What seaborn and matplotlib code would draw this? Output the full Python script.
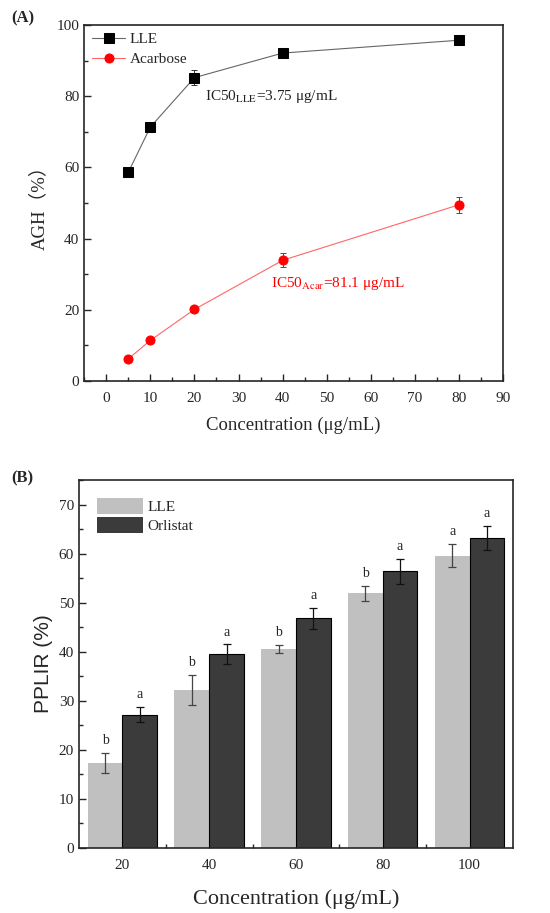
import matplotlib
matplotlib.use("Agg")
import matplotlib.pyplot as plt
from matplotlib.ticker import MultipleLocator, FixedLocator
import seaborn as sns
import pandas as pd
import numpy as np

# ---------------- data ----------------
conc_a = [5, 10, 20, 40, 80]
lle_agh = [58.6, 71.3, 85.2, 92.1, 95.7]
lle_agh_err = [0.9, 0.9, 2.2, 0.8, 0.8]
acar_agh = [6.2, 11.4, 20.1, 33.9, 49.5]
acar_agh_err = [0.5, 0.6, 0.8, 2.0, 2.2]

conc_b = ["20", "40", "60", "80", "100"]
lle_pplir = [17.3, 32.2, 40.5, 51.9, 59.6]
lle_pplir_err = [2.1, 3.0, 0.8, 1.5, 2.3]
orl_pplir = [27.2, 39.5, 46.8, 56.4, 63.2]
orl_pplir_err = [1.5, 2.0, 2.2, 2.6, 2.5]
lle_letters = ["b", "b", "b", "b", "a"]
orl_letters = ["a", "a", "a", "a", "a"]

sns.set_style("ticks")
plt.rcParams["font.family"] = ["Liberation Serif", "DejaVu Serif"]
plt.rcParams["mathtext.fontset"] = "stix"

fig = plt.figure(figsize=(5.5, 9.13), dpi=100)

# ---------------- panel A ----------------
ax1 = fig.add_axes([0.153, 0.5827, 0.762, 0.39])

df_lle = pd.DataFrame({"conc": conc_a, "agh": lle_agh})
df_acar = pd.DataFrame({"conc": conc_a, "agh": acar_agh})

ax1.errorbar(conc_a, lle_agh, yerr=lle_agh_err, fmt="none", ecolor="#333333",
             elinewidth=0.7, capsize=2.5, capthick=0.7, zorder=1)
ax1.errorbar(conc_a, acar_agh, yerr=acar_agh_err, fmt="none", ecolor="red",
             elinewidth=0.7, capsize=2.5, capthick=0.7, zorder=1)
sns.lineplot(data=df_lle, x="conc", y="agh", ax=ax1, color="#666666", lw=0.8,
             marker="s", markersize=6.5, markerfacecolor="black",
             markeredgecolor="black", label="LLE", zorder=3)
sns.lineplot(data=df_acar, x="conc", y="agh", ax=ax1, color="#ff6666", lw=0.8,
             marker="o", markersize=6.5, markerfacecolor="red",
             markeredgecolor="red", label="Acarbose", zorder=3)

ax1.set_xlim(-5, 90)
ax1.set_ylim(0, 100)
ax1.xaxis.set_major_locator(MultipleLocator(10))
ax1.xaxis.set_minor_locator(MultipleLocator(5))
ax1.yaxis.set_major_locator(MultipleLocator(20))
ax1.yaxis.set_minor_locator(MultipleLocator(10))
ax1.tick_params(which="both", direction="in", labelsize=11)
ax1.tick_params(which="major", length=5, width=1)
ax1.tick_params(which="minor", length=3, width=1)
ax1.tick_params(axis="x", pad=8)
for s in ax1.spines.values():
    s.set_linewidth(1.2)
ax1.set_xlabel("Concentration (μg/mL)", fontsize=13.5, labelpad=8)
ax1.set_ylabel("AGH（%）", fontsize=13.5, labelpad=6,
               family=["Liberation Serif", "Noto Sans CJK SC"])

ax1.text(22.4, 78.9, r"IC50$_{\rm LLE}$=3.75 μg/mL", fontsize=11, color="#222222")
ax1.text(37.4, 26.5, r"IC50$_{\rm Acar}$=81.1 μg/mL", fontsize=11, color="red")
ax1.legend(loc="upper left", frameon=False, fontsize=11, handlelength=2.2,
           borderaxespad=0.1, labelspacing=0.4, handletextpad=0.3)

fig.text(0.02, 0.976, "(A)", fontsize=12, fontweight="bold")

# ---------------- panel B ----------------
ax2 = fig.add_axes([0.1436, 0.0712, 0.789, 0.403])

df_b = pd.DataFrame({
    "conc": conc_b * 2,
    "pplir": lle_pplir + orl_pplir,
    "sample": ["LLE"] * len(conc_b) + ["Orlistat"] * len(conc_b),
})
sns.barplot(data=df_b, x="conc", y="pplir", hue="sample", order=conc_b,
            palette=["#c0c0c0", "#3b3b3b"], width=0.8, gap=0, errorbar=None,
            saturation=1, linewidth=0, ax=ax2)
for p in ax2.containers[1].patches:
    p.set_edgecolor("black")
    p.set_linewidth(0.8)

for cont, errs, letters, ecol in [(ax2.containers[0], lle_pplir_err, lle_letters, "#444444"),
                                  (ax2.containers[1], orl_pplir_err, orl_letters, "#111111")]:
    xs = [p.get_x() + p.get_width() / 2 for p in cont.patches]
    ys = [p.get_height() for p in cont.patches]
    ax2.errorbar(xs, ys, yerr=errs, fmt="none", ecolor=ecol, elinewidth=0.9,
                 capsize=3, capthick=0.9)
    for x, y, e, t in zip(xs, ys, errs, letters):
        ax2.text(x, y + e + 1.2, t, ha="center", va="bottom", fontsize=10)

ax2.set_xlim(-0.5, 4.5)
ax2.set_ylim(0, 75)
ax2.yaxis.set_major_locator(MultipleLocator(10))
ax2.yaxis.set_minor_locator(MultipleLocator(5))
ax2.xaxis.set_minor_locator(FixedLocator(np.arange(0.5, 4.5, 1)))
ax2.tick_params(which="both", direction="in", labelsize=11)
ax2.tick_params(which="major", length=5, width=1)
ax2.tick_params(which="minor", length=3, width=1)
ax2.tick_params(axis="x", pad=8)
for s in ax2.spines.values():
    s.set_linewidth(1.2)
    s.set_visible(True)
ax2.set_xlabel("Concentration (μg/mL)", fontsize=16, labelpad=12)
ax2.set_ylabel("PPLIR (%)", fontsize=15, labelpad=4,
               family=["Liberation Sans", "DejaVu Sans"])
ax2.legend(loc="upper left", frameon=False, fontsize=11, handlelength=3,
           handleheight=1.2, borderaxespad=0.8, labelspacing=0.2,
           handletextpad=0.3, title=None)

fig.text(0.02, 0.472, "(B)", fontsize=12, fontweight="bold")

fig.savefig("out.png", dpi=100)
